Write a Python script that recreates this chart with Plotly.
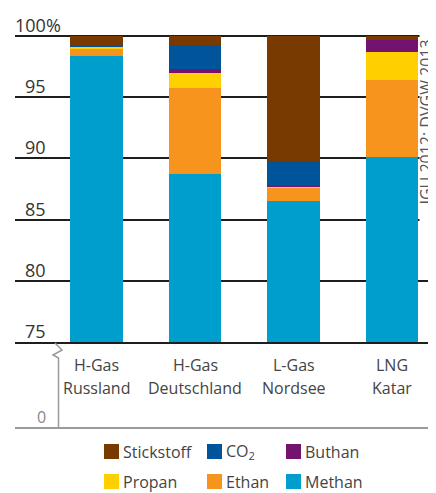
import plotly.graph_objects as go

# ---- data ----
categories = ["H-Gas\nRussland", "H-Gas\nDeutschland", "L-Gas\nNordsee", "LNG\nKatar"]
methan     = [98.37, 88.75, 86.52, 90.14]
ethan      = [0.57, 7.00, 1.09, 6.27]
propan     = [0.20, 1.20, 0.06, 2.29]
buthan     = [0.04, 0.33, 0.10, 0.98]
co2        = [0.08, 1.97, 2.02, 0.00]
stickstoff = [0.74, 0.75, 10.21, 0.32]

series_names  = ["Methan", "Ethan", "Propan", "Buthan", "CO<sub>2</sub>", "Stickstoff"]
series_values = [methan, ethan, propan, buthan, co2, stickstoff]
series_colors = ["#009ecd", "#f7941e", "#ffd000", "#74126f", "#00559a", "#783a00"]

ytick_vals = [75, 80, 85, 90, 95, 100]
ytick_text = ["75", "80", "85", "90", "95", "100%"]
source_text = "IGU 2012; DVGW 2013"

# ---- geometry (pixels, in window coordinates) ----
WIDTH, HEIGHT = 436, 493
OFF = 8  # default page body margin
L, R, T, B = 15, 436, 32, 342
W, H = R - L, B - T
FONT = "Open Sans"

def px(x):
    return (x - L) / W

def py(y):
    return (B - y) / H

xs = list(range(len(categories)))
step = 98.5
c0 = 96.5
xrange = [(L - c0) / step, (R - c0) / step]
yrange = [75, 75 + H / 12.24]

fig = go.Figure()
for name, vals, col in zip(series_names, series_values, series_colors):
    fig.add_trace(go.Bar(x=xs, y=vals, name=name, marker=dict(color=col, line=dict(width=0)),
                         width=0.535, showlegend=False, hoverinfo="name+y"))

shapes = []
annotations = []

# y tick labels above gridlines
for v, t in zip(ytick_vals, ytick_text):
    if t.endswith("%"):
        annotations.append(dict(x=px(13), y=v, xref="paper", yref="y", text=t, showarrow=False,
                                xanchor="left", yanchor="bottom", yshift=-3,
                                font=dict(family=FONT, size=18, color="#333")))
    else:
        annotations.append(dict(x=px(48), y=v, xref="paper", yref="y", text=t, showarrow=False,
                                xanchor="right", yanchor="bottom", yshift=-3,
                                font=dict(family=FONT, size=18, color="#333")))

# category labels (two lines)
for i, c in enumerate(categories):
    l1, l2 = c.split("\n")
    annotations.append(dict(x=i, y=py(365), xref="x", yref="paper", text=l1, showarrow=False,
                            xanchor="center", yanchor="middle",
                            font=dict(family=FONT, size=16, color="#444")))
    annotations.append(dict(x=i, y=py(388), xref="x", yref="paper", text=l2, showarrow=False,
                            xanchor="center", yanchor="middle",
                            font=dict(family=FONT, size=16, color="#444")))

# "0" label of broken axis
annotations.append(dict(x=px(41), y=py(417), xref="paper", yref="paper", text="0", showarrow=False,
                        xanchor="center", yanchor="middle",
                        font=dict(family=FONT, size=16, color="#888")))

# bottom line at 0 and broken vertical axis
shapes.append(dict(type="line", xref="paper", yref="paper", x0=0, x1=1, y0=py(428), y1=py(428),
                   line=dict(color="#9a9a9a", width=2)))
zig = [(55, 343), (62, 350), (53, 355), (58.5, 358), (58.5, 428)]
path = "M " + " L ".join(f"{px(a):.5f},{py(b):.5f}" for a, b in zig)
shapes.append(dict(type="path", xref="paper", yref="paper", path=path,
                   line=dict(color="#9a9a9a", width=1.5)))

# source text box (white background)
shapes.append(dict(type="rect", xref="paper", yref="paper", x0=px(419.5), x1=px(437),
                   y0=py(226), y1=py(30), fillcolor="white", line=dict(width=0), layer="above"))
annotations.append(dict(x=px(425.5), y=py(122), xref="paper", yref="paper", text=source_text,
                        showarrow=False, textangle=-90, xanchor="center", yanchor="middle",
                        font=dict(family=FONT, size=16, color="#555")))

# manual legend
legend_order = [5, 4, 3, 2, 1, 0]
col_x = [104, 207, 286]
row_y = [451.5, 481.5]
for k, si in enumerate(legend_order):
    cx = col_x[k % 3]
    cy = row_y[k // 3]
    shapes.append(dict(type="rect", xref="paper", yref="paper",
                       x0=px(cx), x1=px(cx + 15), y0=py(cy + 7.5), y1=py(cy - 7.5),
                       fillcolor=series_colors[si], line=dict(width=0)))
    annotations.append(dict(x=px(cx + 17), y=py(cy), xref="paper", yref="paper",
                            text=series_names[si], showarrow=False,
                            xanchor="left", yanchor="middle",
                            font=dict(family=FONT, size=16, color="#444")))

fig.update_layout(
    width=WIDTH - OFF, height=HEIGHT - OFF,
    margin=dict(l=L - OFF, r=WIDTH - R, t=T - OFF, b=HEIGHT - B, pad=0),
    barmode="stack",
    paper_bgcolor="white", plot_bgcolor="white",
    xaxis=dict(range=xrange, showgrid=False, zeroline=False, showticklabels=False,
               showline=True, linecolor="#1e1e1e", linewidth=2, ticks="", fixedrange=True),
    yaxis=dict(range=yrange, tickvals=ytick_vals, showticklabels=False, showgrid=True,
               gridcolor="#1e1e1e", gridwidth=2, zeroline=False, showline=False, ticks="",
               fixedrange=True),
    shapes=shapes,
    annotations=annotations,
    showlegend=False,
)

fig.write_html("out.html")
